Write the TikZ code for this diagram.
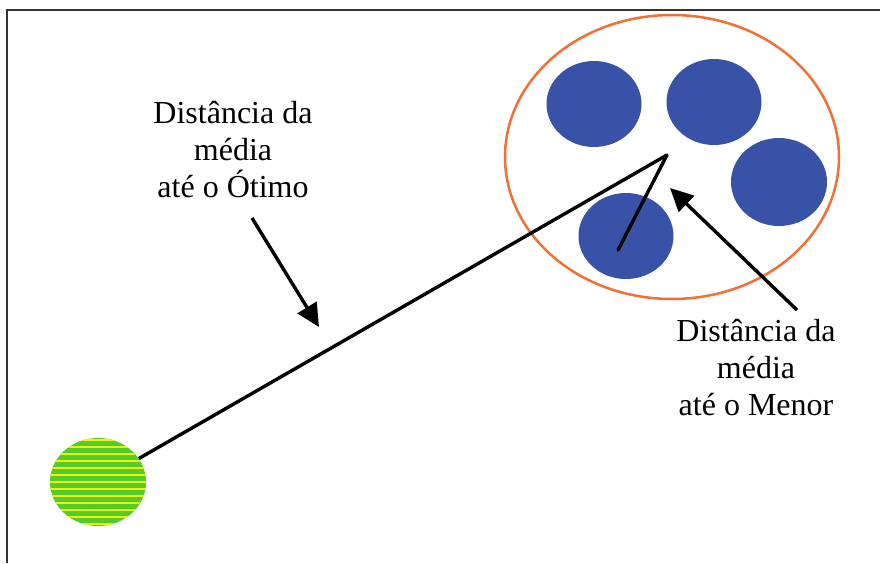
\documentclass[tikz,border=0pt]{standalone}
\usepackage{fontspec}
\setmainfont{Liberation Serif}
\usetikzlibrary{arrows.meta,shapes.geometric}
\definecolor{bluefill}{RGB}{56,82,168}
\definecolor{orangeline}{RGB}{242,112,52}
\definecolor{greenfill}{RGB}{84,204,40}
\definecolor{yellowline}{RGB}{240,240,20}
\tikzset{
  bluedot/.style={ellipse,fill=bluefill,draw=none,minimum width=95pt,minimum height=86pt,inner sep=0pt},
  label/.style={align=center,font=\fontsize{32}{37}\selectfont,inner sep=0pt},
  mainline/.style={line width=3.4pt,black},
  pointer/.style={line width=3.4pt,black,-{Triangle[length=23pt,width=22pt]}}
}
\begin{document}
\begin{tikzpicture}[x=1pt,y=-1pt]
\useasboundingbox (0,0) rectangle (880,563);
\fill[white] (0,0) rectangle (880,563);
% frame
\draw[line width=1.5pt,black!80] (7,563) -- (7,10) -- (880,10);
% orange cluster ellipse
\node[ellipse,draw=orangeline,line width=2.5pt,minimum width=334pt,minimum height=284pt,inner sep=0pt] (cluster) at (672,157) {};
% blue points
\node[bluedot] (b1) at (594,104) {};
\node[bluedot] (b2) at (714,102) {};
\node[bluedot,minimum width=96pt,minimum height=88pt] (b3) at (779,182) {};
\node[bluedot] (b4) at (626,236) {};
% green optimum
\node[ellipse,fill=greenfill,minimum width=96pt,minimum height=88pt,inner sep=0pt] (g) at (98,482) {};
\begin{scope}
\clip (98,482) ellipse [x radius=48, y radius=44];
\foreach \yy in {440,447,...,530} {
  \draw[yellowline,line width=1.8pt] (40,\yy) -- (160,\yy);
}
\end{scope}
% mean point and lines
\coordinate (apex) at (667,155);
\coordinate (near) at (618,250);
\draw[mainline] (g) -- (apex);
\draw[mainline,line cap=round] (apex) -- (near);
% labels
\node[label] (t1) at (233,150) {Distância da\\média\\até o Ótimo};
\node[label] (t2) at (756,368) {Distância da\\média\\até o Menor};
% pointers
\coordinate (p1s) at (252,218);
\coordinate (p1e) at (319,327);
\coordinate (p2s) at (797,310);
\coordinate (p2e) at (670,188);
\draw[pointer] (p1s) -- (p1e);
\draw[pointer] (p2s) -- (p2e);
\end{tikzpicture}
\end{document}
